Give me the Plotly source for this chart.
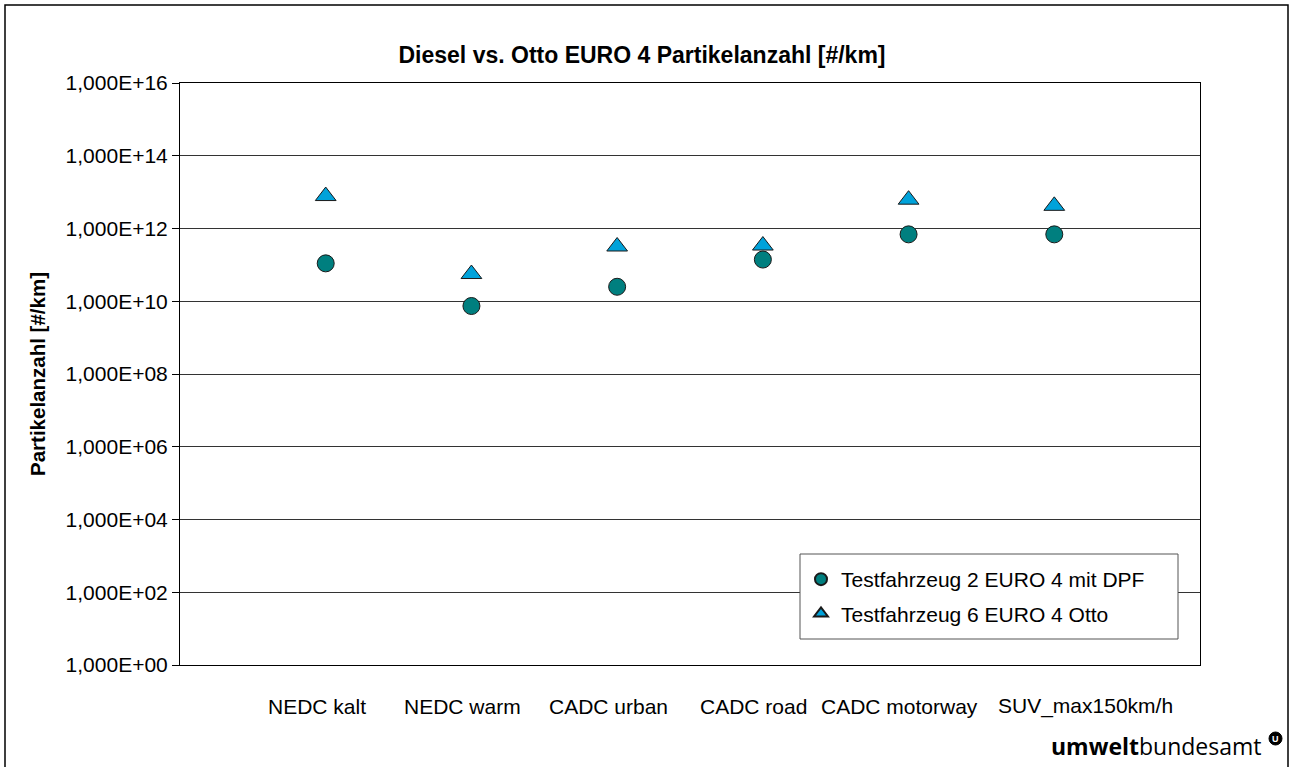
import plotly.graph_objects as go

categories = ["NEDC kalt", "NEDC warm", "CADC urban", "CADC road", "CADC motorway", "SUV_max150km/h"]
diesel_dpf = [1.1e11, 7.4e9, 2.5e10, 1.4e11, 6.9e11, 6.9e11]
otto = [7.8e12, 5.6e10, 3.2e11, 3.4e11, 6.2e12, 4.2e12]
series_names = ["Testfahrzeug 2 EURO 4 mit DPF", "Testfahrzeug 6 EURO 4 Otto"]
ytick_vals = [1e0, 1e2, 1e4, 1e6, 1e8, 1e10, 1e12, 1e14, 1e16]
ytick_text = ["1,000E+00", "1,000E+02", "1,000E+04", "1,000E+06", "1,000E+08",
              "1,000E+10", "1,000E+12", "1,000E+14", "1,000E+16"]

FONT = "Liberation Sans, Arial, sans-serif"

fig = go.Figure()
fig.add_trace(go.Scatter(
    x=categories, y=diesel_dpf, mode="markers", name=series_names[0],
    legendgroup="a",
    marker=dict(symbol="circle", size=17, color="#007F7F",
                line=dict(color="#1a1a1a", width=1)),
))
fig.add_trace(go.Scatter(
    x=categories, y=otto, mode="markers", name=series_names[1],
    legendgroup="b",
    marker=dict(symbol="triangle-up", size=18, color="#00A2DA",
                line=dict(color="#1a1a1a", width=1)),
))

L, R, T, B = 180, 1200, 83, 665
W, H = 1293, 767
pw, ph = R - L, B - T

def px(xp):
    return (xp - L) / pw

def py(yp):
    return (B - yp) / ph

fig.update_layout(
    width=W, height=H, autosize=False,
    margin=dict(l=L, r=W - R, t=T, b=H - B, pad=0),
    paper_bgcolor="white", plot_bgcolor="white",
    font=dict(family=FONT, size=21, color="black"),
    showlegend=True,
    legend=dict(
        x=px(801), y=py(559), xanchor="left", yanchor="top",
        bgcolor="rgba(0,0,0,0)", borderwidth=0,
        font=dict(family=FONT, size=21, color="black"),
        itemsizing="constant", tracegroupgap=4,
    ),
    title=dict(text="<b>Diesel vs. Otto EURO 4 Partikelanzahl [#/km]</b>",
               x=px(642), xanchor="center", xref="paper",
               y=1 - 55 / H, yanchor="middle",
               font=dict(family=FONT, size=23, color="black")),
)

fig.update_xaxes(
    type="category", range=[-1, 6], automargin=False,
    showticklabels=False,
    showgrid=False, zeroline=False,
    showline=True, linecolor="black", linewidth=1, mirror=True,
    ticks="",
)
fig.update_yaxes(
    type="log", range=[0, 16], automargin=False,
    tickvals=ytick_vals, ticktext=ytick_text,
    showgrid=True, gridcolor="#333333", gridwidth=1,
    zeroline=False,
    showline=True, linecolor="black", linewidth=1, mirror=True,
    ticks="outside", ticklen=7, tickcolor="black",
    tickfont=dict(family=FONT, size=21, color="black"),
    title=dict(text="<b>Partikelanzahl [#/km]</b>", standoff=14,
               font=dict(family=FONT, size=20.5, color="black")),
)

# category labels placed on the category axis (last one nudged right as in the original)
for i, cat in enumerate(categories):
    fig.add_annotation(xref="x", yref="paper", x=cat, y=py(706),
                       xanchor="center", yanchor="middle", showarrow=False,
                       xshift=(31 if i == len(categories) - 1 else -9),
                       text=cat, font=dict(family=FONT, size=21, color="black"))

# legend box (covers gridline like the original)
fig.add_shape(type="rect", xref="paper", yref="paper",
              x0=px(800), x1=px(1178), y0=py(639), y1=py(554),
              line=dict(color="#555555", width=1), fillcolor="white",
              layer="above")

# outer chart frame
fig.add_shape(type="rect", xref="paper", yref="paper",
              x0=px(5), x1=px(1288), y0=py(775), y1=py(5),
              line=dict(color="black", width=1.5), fillcolor="rgba(0,0,0,0)",
              layer="below")

# logo
fig.add_annotation(xref="paper", yref="paper", x=px(1264), y=py(746),
                   xanchor="right", yanchor="middle", showarrow=False,
                   text="<b>umwelt</b>bundesamt",
                   font=dict(family="Open Sans, sans-serif", size=23, color="black"))
fig.add_shape(type="circle", xref="paper", yref="paper",
              x0=px(1269), x1=px(1282), y0=py(745), y1=py(732),
              line=dict(color="black", width=1), fillcolor="black")
fig.add_annotation(xref="paper", yref="paper", x=px(1275.5), y=py(738.5),
                   xanchor="center", yanchor="middle", showarrow=False,
                   text="<b>U</b>",
                   font=dict(family=FONT, size=9, color="white"))

fig.write_html("out.html", config={"displayModeBar": False},
               post_script="document.body.style.margin='0';document.body.style.overflow='hidden';")
